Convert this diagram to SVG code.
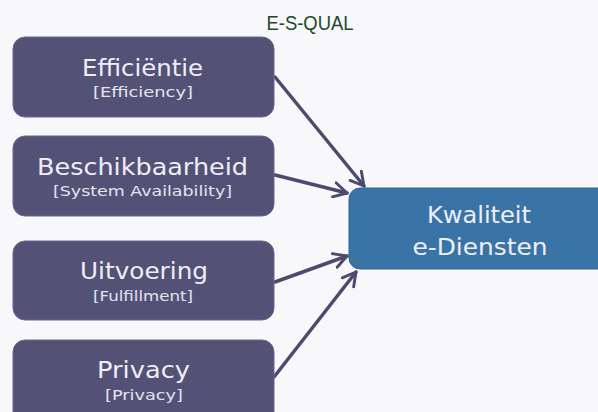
<svg xmlns="http://www.w3.org/2000/svg" width="598" height="412" viewBox="0 0 598 412">
<defs>
<style>
.src rect{fill:#545177;stroke:#6a6790;stroke-width:1}
.t1{font-family:"DejaVu Sans","Liberation Sans",sans-serif;font-size:23px;fill:#eeeef4;text-anchor:middle}
.t2{font-family:"DejaVu Sans","Liberation Sans",sans-serif;font-size:14px;fill:#e4e4ee;text-anchor:middle}
.conn line{stroke:#4e4a6e;stroke-width:3.5;stroke-linecap:round}
</style>
<marker id="ah" viewBox="0 0 12 12" refX="10" refY="6" markerWidth="5" markerHeight="5" markerUnits="strokeWidth" orient="auto">
<path d="M1,1 L10,6 L1,11" fill="none" stroke="#4e4a6e" stroke-width="2" stroke-linecap="round" stroke-linejoin="round"/>
</marker>
</defs>
<rect width="598" height="412" fill="#f8f8fb"/>
<text x="310" y="30" font-family="'Liberation Sans',sans-serif" font-size="21" fill="#1d4a2c" text-anchor="middle" textLength="87" lengthAdjust="spacingAndGlyphs">E-S-QUAL</text>
<g class="conn">
<line x1="275" y1="77" x2="364" y2="186" marker-end="url(#ah)"/>
<line x1="275" y1="175" x2="347" y2="193" marker-end="url(#ah)"/>
<line x1="275" y1="282" x2="347" y2="256" marker-end="url(#ah)"/>
<line x1="274" y1="377" x2="356" y2="272" marker-end="url(#ah)"/>
</g>
<g id="efficientie" class="src">
<rect x="13" y="37" width="261" height="80" rx="12"/>
<text class="t1" x="142.5" y="76" textLength="121" lengthAdjust="spacingAndGlyphs">Efficiëntie</text>
<text class="t2" x="143" y="97" textLength="100" lengthAdjust="spacingAndGlyphs">[Efficiency]</text>
</g>
<g id="beschikbaarheid" class="src">
<rect x="13" y="136" width="261" height="80" rx="12"/>
<text class="t1" x="142.5" y="175" textLength="211" lengthAdjust="spacingAndGlyphs">Beschikbaarheid</text>
<text class="t2" x="142.5" y="196" textLength="179" lengthAdjust="spacingAndGlyphs">[System Availability]</text>
</g>
<g id="uitvoering" class="src">
<rect x="13" y="241" width="261" height="79" rx="12"/>
<text class="t1" x="144" y="279" textLength="128" lengthAdjust="spacingAndGlyphs">Uitvoering</text>
<text class="t2" x="143" y="301" textLength="100" lengthAdjust="spacingAndGlyphs">[Fulfillment]</text>
</g>
<g id="privacy" class="src">
<rect x="13" y="340" width="261" height="90" rx="12"/>
<text class="t1" x="143.5" y="378" textLength="93" lengthAdjust="spacingAndGlyphs">Privacy</text>
<text class="t2" x="144" y="400" textLength="78" lengthAdjust="spacingAndGlyphs">[Privacy]</text>
</g>
<g id="kwaliteit">
<rect x="349" y="188" width="270" height="81" rx="11" fill="#3a74a6" stroke="#2f6592" stroke-width="1"/>
<text class="t1" x="479" y="223" textLength="104" lengthAdjust="spacingAndGlyphs">Kwaliteit</text>
<text class="t1" x="480" y="255" textLength="135" lengthAdjust="spacingAndGlyphs">e-Diensten</text>
</g>
</svg>
